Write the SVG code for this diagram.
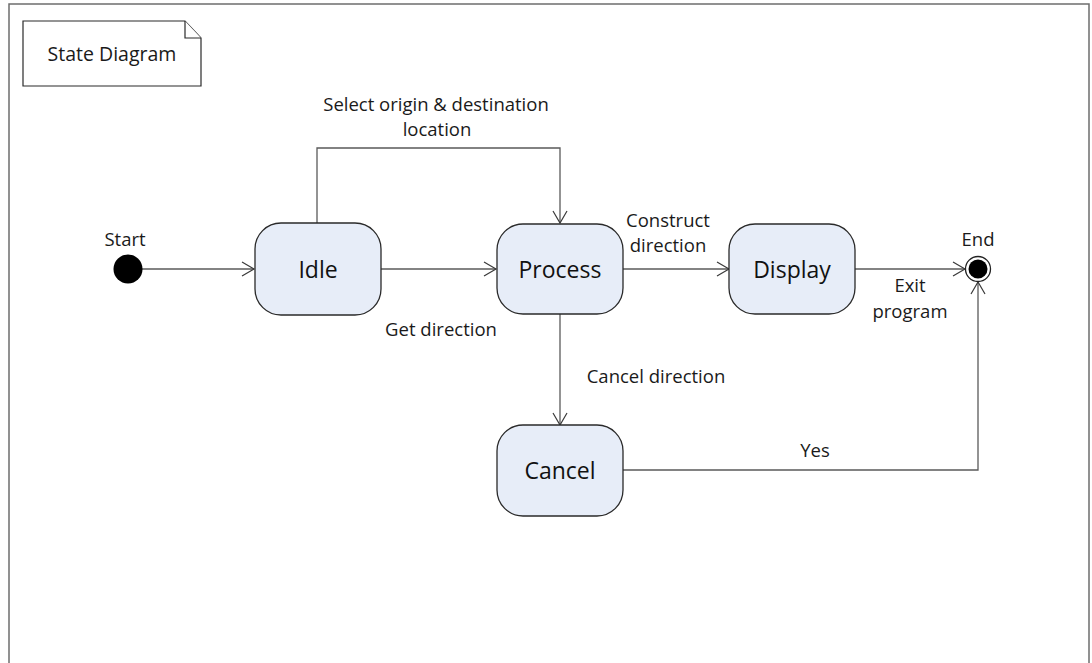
<svg xmlns="http://www.w3.org/2000/svg" width="1092" height="663" viewBox="0 0 1092 663">
<style>
.frame{fill:none;stroke:#6d6d6d;stroke-width:1.5}
.state{fill:#e7edf8;stroke:#2a2a2a;stroke-width:1.3}
.note{fill:#fff;stroke:#2a2a2a;stroke-width:1.2}
.conn{fill:none;stroke:#5a5a5a;stroke-width:1.3}
.lbl{font-family:"Open Sans","Liberation Sans",sans-serif;font-size:18.5px;fill:#1a1a1a;text-anchor:middle}
.big{font-family:"Open Sans","Liberation Sans",sans-serif;font-size:23px;fill:#111;text-anchor:middle}
</style>
<defs>
<marker id="arr" markerWidth="16" markerHeight="16" refX="13" refY="8" orient="auto" markerUnits="userSpaceOnUse">
<path d="M1,1 L13,8 L1,15" fill="none" stroke="#3a3a3a" stroke-width="1.2"/>
</marker>
</defs>
<rect width="1092" height="663" fill="#fff"/>
<path class="frame" d="M9,670 V4 H1089 V670"/>
<g id="note">
<path class="note" d="M23,21 H185 L201,38 V86 H23 Z"/>
<path class="note" d="M185,21 V38 H201" fill="none"/>
<text class="lbl" x="112" y="61" style="font-size:19.5px">State Diagram</text>
</g>
<g id="connectors">
<line class="conn" x1="142" y1="269" x2="254" y2="269" marker-end="url(#arr)"/>
<line class="conn" x1="381" y1="269" x2="496" y2="269" marker-end="url(#arr)"/>
<polyline class="conn" points="317,223 317,148 560,148 560,223" marker-end="url(#arr)"/>
<line class="conn" x1="623" y1="269" x2="729" y2="269" marker-end="url(#arr)"/>
<line class="conn" x1="855" y1="269" x2="965" y2="269" marker-end="url(#arr)"/>
<line class="conn" x1="560" y1="314" x2="560" y2="425" marker-end="url(#arr)"/>
<polyline class="conn" points="623,470 978,470 978,282" marker-end="url(#arr)"/>
<text class="lbl" x="436" y="111">Select origin &amp; destination</text>
<text class="lbl" x="437" y="136">location</text>
<text class="lbl" x="441" y="336">Get direction</text>
<text class="lbl" x="668" y="227">Construct</text>
<text class="lbl" x="668" y="252">direction</text>
<text class="lbl" x="656" y="383">Cancel direction</text>
<text class="lbl" x="910" y="292">Exit</text>
<text class="lbl" x="910" y="318">program</text>
<text class="lbl" x="815" y="457">Yes</text>
</g>
<g id="start">
<circle cx="128" cy="269" r="14.5" fill="#000"/>
<text class="lbl" x="125" y="246">Start</text>
</g>
<g id="idle">
<rect class="state" x="255" y="223" width="126" height="92" rx="26"/>
<text class="big" x="318" y="278">Idle</text>
</g>
<g id="process">
<rect class="state" x="497" y="224" width="126" height="90" rx="26"/>
<text class="big" x="560" y="278">Process</text>
</g>
<g id="display">
<rect class="state" x="729" y="224" width="126" height="90" rx="26"/>
<text class="big" x="792" y="278">Display</text>
</g>
<g id="cancel">
<rect class="state" x="497" y="425" width="126" height="91" rx="26"/>
<text class="big" x="560" y="479">Cancel</text>
</g>
<g id="end">
<circle cx="978" cy="269" r="12.5" fill="#fff" stroke="#222" stroke-width="1.3"/>
<circle cx="978" cy="269" r="9.5" fill="#000"/>
<text class="lbl" x="978" y="246">End</text>
</g>
</svg>
